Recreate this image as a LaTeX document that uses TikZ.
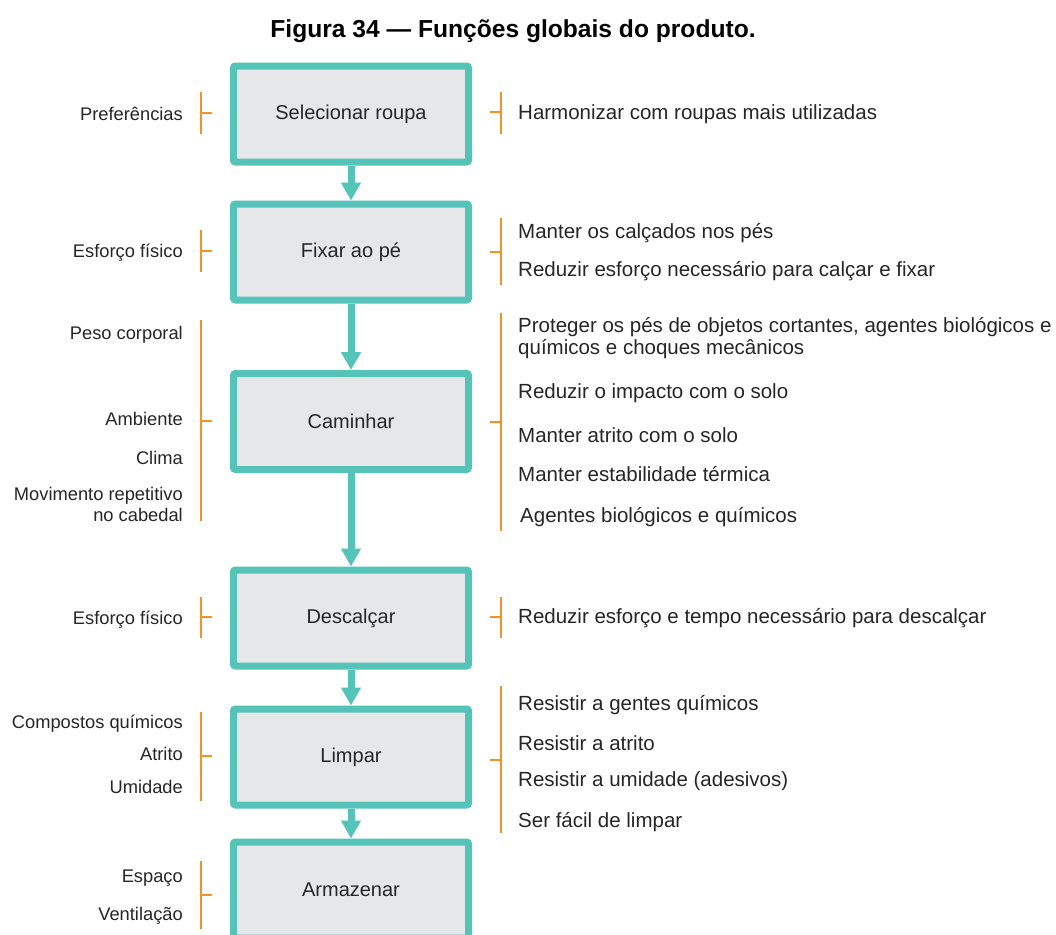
\documentclass[tikz,border=0pt]{standalone}
\usepackage{fontspec}
\setmainfont{Liberation Sans}
\usetikzlibrary{arrows.meta}
\definecolor{tealc}{HTML}{56C3B8}
\definecolor{boxfill}{HTML}{E6E7E9}
\definecolor{orangec}{HTML}{F39325}
\definecolor{txt}{HTML}{262626}
\tikzset{
 fbox/.style={draw=tealc, fill=boxfill, line width=7pt, rounded corners=2pt, minimum width=235pt, minimum height=96pt, font=\fontsize{20}{24}\selectfont, text=txt},
 flow/.style={draw=tealc, line width=7pt, -{Triangle[width=19pt,length=18pt]}},
 ltxt/.style={anchor=mid east, font=\fontsize{18.3}{22}\selectfont, text=txt, inner sep=0pt, yshift=-4.5pt},
 rtxt/.style={anchor=mid west, font=\fontsize{20.5}{24}\selectfont, text=txt, inner sep=0pt, yshift=-4.5pt},
 brk/.style={draw=orangec, line width=2.5pt},
}
\begin{document}
\begin{tikzpicture}[x=1pt,y=-1pt]
\useasboundingbox (0,0) rectangle (1056,934);
\clip (0,0) rectangle (1056,934);
\fill[white] (0,0) rectangle (1056,934);
\node[font=\bfseries\fontsize{24.6}{28}\selectfont, text=black] (title) at (513,31) {Figura 34 — Funções globais do produto.};
% boxes
\node[fbox] (b1) at (351,114) {Selecionar roupa};
\node[fbox] (b2) at (351,252) {Fixar ao pé};
\node[fbox] (b3) at (351,421.5) {Caminhar};
\node[fbox] (b4) at (351,618) {Descalçar};
\node[fbox] (b5) at (351,757) {Limpar};
\node[fbox] (b6) at (351,890) {Armazenar};
% arrows
\draw[flow] (b1.south) -- (b2.north);
\draw[flow] (b2.south) -- (b3.north);
\draw[flow] (b3.south) -- (b4.north);
\draw[flow] (b4.south) -- (b5.north);
\draw[flow] (b5.south) -- (b6.north);
% left brackets
\draw[brk] (201,92) -- (201,134) (201,113) -- (212,113);
\draw[brk] (201,230) -- (201,272) (201,251) -- (212,251);
\draw[brk] (201,320) -- (201,521) (201,421) -- (212,421);
\draw[brk] (201,597) -- (201,638) (201,617) -- (212,617);
\draw[brk] (201,712) -- (201,801) (201,756) -- (212,756);
\draw[brk] (201,861) -- (201,929) (201,895) -- (212,895);
% right brackets
\draw[brk] (501,92) -- (501,134) (501,112) -- (490,112);
\draw[brk] (501,218) -- (501,285) (501,252) -- (490,252);
\draw[brk] (501,313) -- (501,531) (501,422) -- (490,422);
\draw[brk] (501,597) -- (501,638) (501,617) -- (490,617);
\draw[brk] (501,686) -- (501,833) (501,760) -- (490,760);
% left texts
\node[ltxt] (l1) at (183,113) {Preferências};
\node[ltxt] (l2) at (183,250) {Esforço físico};
\node[ltxt] (l3) at (183,332) {Peso corporal};
\node[ltxt] (l4) at (183,418) {Ambiente};
\node[ltxt] (l5) at (183,457) {Clima};
\node[ltxt] (l6a) at (183,493) {Movimento repetitivo};
\node[ltxt] (l6b) at (183,514) {no cabedal};
\node[ltxt] (l7) at (183,617) {Esforço físico};
\node[ltxt] (l8) at (183,721) {Compostos químicos};
\node[ltxt] (l9) at (183,753) {Atrito};
\node[ltxt] (l10) at (183,786) {Umidade};
\node[ltxt] (l11) at (183,875) {Espaço};
\node[ltxt] (l12) at (183,913) {Ventilação};
% right texts
\node[rtxt] (r1) at (518,112) {Harmonizar com roupas mais utilizadas};
\node[rtxt] (r2) at (518,231) {Manter os calçados nos pés};
\node[rtxt] (r3) at (518,269) {Reduzir esforço necessário para calçar e fixar};
\node[rtxt] (r4a) at (518,325) {Proteger os pés de objetos cortantes, agentes biológicos e};
\node[rtxt] (r4b) at (518,347) {químicos e choques mecânicos};
\node[rtxt] (r5) at (518,391) {Reduzir o impacto com o solo};
\node[rtxt] (r6) at (518,435) {Manter atrito com o solo};
\node[rtxt] (r7) at (518,474) {Manter estabilidade térmica};
\node[rtxt] (r8) at (520,515) {Agentes biológicos e químicos};
\node[rtxt] (r9) at (518,616) {Reduzir esforço e tempo necessário para descalçar};
\node[rtxt] (r10) at (518,703) {Resistir a gentes químicos};
\node[rtxt] (r11) at (518,743) {Resistir a atrito};
\node[rtxt] (r12) at (518,779) {Resistir a umidade (adesivos)};
\node[rtxt] (r13) at (518,820) {Ser fácil de limpar};
\end{tikzpicture}
\end{document}
